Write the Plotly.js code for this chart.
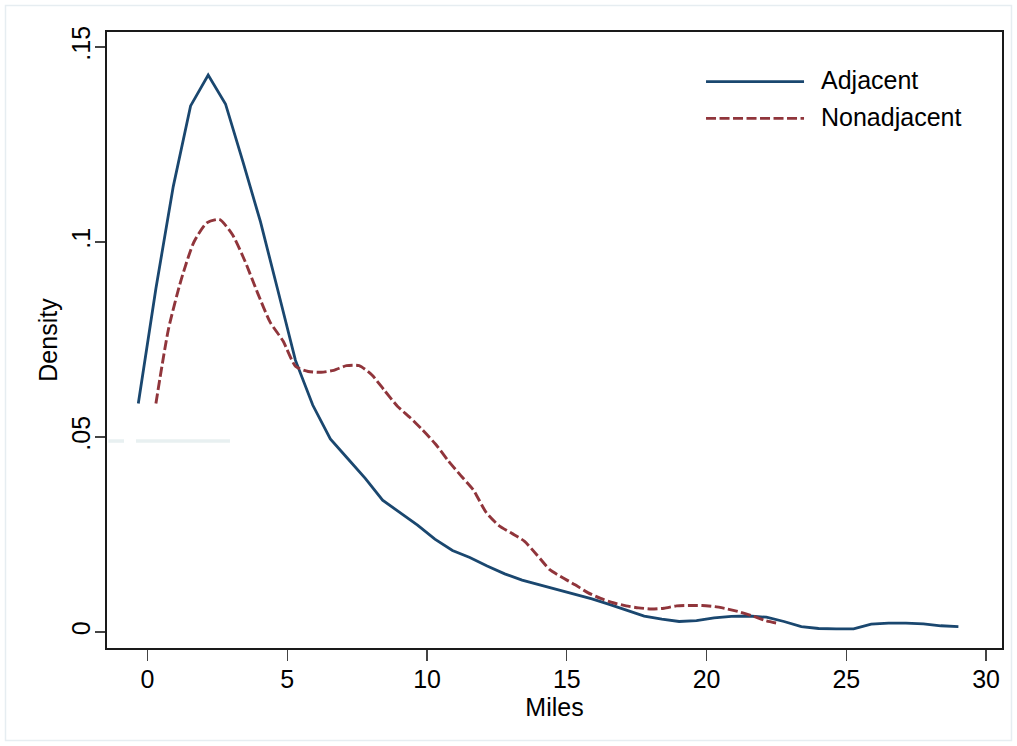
<!DOCTYPE html>
<html>
<head>
<meta charset="utf-8">
<script src="https://cdn.plot.ly/plotly-3.0.1.min.js"></script>
<style>
  html, body { margin: 0; padding: 0; background: #ffffff; }
  #chart { width: 1017px; height: 746px; }
</style>
</head>
<body>
<div id="chart"></div>
<script>
// Kernel density estimates
const adjacentMiles = [
  -0.33, 0.30, 0.92, 1.54, 2.17, 2.79, 3.42, 4.04, 4.66, 5.29,
  5.91, 6.54, 7.16, 7.79, 8.41, 9.03, 9.66, 10.28, 10.91, 11.53,
  12.15, 12.78, 13.40, 14.03, 14.65, 15.28, 15.90, 16.52, 17.15, 17.77,
  18.40, 19.02, 19.64, 20.27, 20.89, 21.52, 22.14, 22.77, 23.39, 24.01,
  24.64, 25.26, 25.89, 26.51, 27.13, 27.76, 28.38, 29.01
];
const adjacentDensity = [
  0.0586, 0.0881, 0.1142, 0.1349, 0.1428, 0.1354, 0.1204, 0.1052, 0.0877, 0.0697,
  0.0582, 0.0495, 0.0445, 0.0394, 0.0338, 0.0306, 0.0274, 0.0238, 0.0209, 0.0191,
  0.0169, 0.0149, 0.0133, 0.0121, 0.0109, 0.0098, 0.0085, 0.0071, 0.0056, 0.0041,
  0.0033, 0.0027, 0.0029, 0.0036, 0.0040, 0.0041, 0.0038, 0.0027, 0.0014, 0.0009,
  0.0008, 0.0008, 0.0020, 0.0023, 0.0023, 0.0021, 0.0016, 0.0014
];

const nonadjacentMiles = [
  0.30, 0.75, 1.21, 1.66, 2.12, 2.57, 3.03, 3.48, 3.94, 4.39,
  4.85, 5.30, 5.75, 6.21, 6.66, 7.12, 7.57, 8.03, 8.48, 8.94,
  9.39, 9.84, 10.30, 10.75, 11.21, 11.66, 12.12, 12.57, 13.03, 13.48,
  13.94, 14.39, 14.84, 15.30, 15.75, 16.21, 16.66, 17.12, 17.57, 18.03,
  18.48, 18.93, 19.39, 19.84, 20.30, 20.75, 21.21, 21.66, 22.12, 22.57
];
const nonadjacentDensity = [
  0.0586, 0.0777, 0.0905, 0.1000, 0.1049, 0.1058, 0.1020, 0.0952, 0.0869, 0.0794,
  0.0746, 0.0681, 0.0668, 0.0666, 0.0671, 0.0683, 0.0683, 0.0659, 0.0619, 0.0579,
  0.0550, 0.0518, 0.0482, 0.0440, 0.0401, 0.0364, 0.0306, 0.0273, 0.0253, 0.0233,
  0.0197, 0.0160, 0.0140, 0.0121, 0.0101, 0.0086, 0.0075, 0.0067, 0.0062, 0.0059,
  0.0061, 0.0067, 0.0068, 0.0068, 0.0065, 0.0059, 0.0051, 0.0041, 0.0029, 0.0022
];

const seriesNames = ["Adjacent", "Nonadjacent"];
const seriesColors = ["#1a476f", "#90353b"];
const seriesDash = ["solid", "10px,3.5px"];
const xTickVals = [0, 5, 10, 15, 20, 25, 30];
const xTickText = ["0", "5", "10", "15", "20", "25", "30"];
const yTickVals = [0, 0.05, 0.1, 0.15];
const yTickText = ["0", ".05", ".1", ".15"];

const FONT = "Liberation Sans, Arial, Helvetica, sans-serif";

const traces = [
  {
    x: adjacentMiles, y: adjacentDensity, name: seriesNames[0],
    type: "scatter", mode: "lines", showlegend: false,
    line: { color: seriesColors[0], width: 2.8, dash: seriesDash[0] }
  },
  {
    x: nonadjacentMiles, y: nonadjacentDensity, name: seriesNames[1],
    type: "scatter", mode: "lines", showlegend: false,
    line: { color: seriesColors[1], width: 2.9, dash: seriesDash[1], shape: "spline", smoothing: 0.6 }
  }
];

// Legend (Stata style: long key line, gap, label) drawn in paper coordinates
const legendRows = [0.9193, 0.8599];
const legendShapes = seriesNames.map((n, i) => ({
  type: "line", xref: "paper", yref: "paper",
  x0: 0.6693, x1: 0.7788, y0: legendRows[i], y1: legendRows[i],
  line: { color: seriesColors[i], width: 2.8, dash: seriesDash[i] }
}));
const legendLabels = seriesNames.map((n, i) => ({
  text: n, xref: "paper", yref: "paper",
  x: 0.7966, y: legendRows[i] + 0.002, xanchor: "left", yanchor: "middle",
  showarrow: false, borderpad: 0,
  font: { family: FONT, size: 25, color: "#000000" }
}));

const layout = {
  width: 1017, height: 746,
  paper_bgcolor: "#ffffff", plot_bgcolor: "#ffffff",
  margin: { l: 107, r: 15, t: 32, b: 98, pad: 0 },
  font: { family: FONT, size: 25, color: "#000000" },
  showlegend: false,
  xaxis: {
    range: [-1.45, 30.57],
    tickmode: "array", tickvals: xTickVals, ticktext: xTickText,
    ticks: "outside", ticklen: 11, tickwidth: 1.2, tickcolor: "#444444",
    ticklabelstandoff: -3,
    showline: true, linecolor: "#1a1a1a", linewidth: 2, mirror: true,
    showgrid: false, zeroline: false,
    tickfont: { family: FONT, size: 25, color: "#000000" },
    title: { text: "Miles", font: { family: FONT, size: 25, color: "#000000" }, standoff: 0 }
  },
  yaxis: {
    range: [-0.0041, 0.15385],
    tickmode: "array", tickvals: yTickVals, ticktext: yTickText,
    tickangle: -90,
    ticks: "outside", ticklen: 10, tickwidth: 1.2, tickcolor: "#444444",
    ticklabelstandoff: -5,
    showline: true, linecolor: "#1a1a1a", linewidth: 2, mirror: true,
    showgrid: false, zeroline: false,
    tickfont: { family: FONT, size: 25, color: "#000000" },
    title: { text: "Density", font: { family: FONT, size: 25, color: "#000000" }, standoff: 2 }
  },
  annotations: legendLabels,
  shapes: [
    { type: "rect", xref: "paper", yref: "paper",
      x0: -0.1134, x1: 1.0106, y0: -0.150, y1: 1.043,
      line: { color: "#e6edf1", width: 1.5 }, fillcolor: "rgba(0,0,0,0)", layer: "below" },
    { type: "line", xref: "paper", yref: "paper",
      x0: 0.0015, x1: 0.019, y0: 0.336, y1: 0.336,
      line: { color: "#e8f0f1", width: 3.5 } },
    { type: "line", xref: "paper", yref: "paper",
      x0: 0.0324, x1: 0.1374, y0: 0.336, y1: 0.336,
      line: { color: "#e8f0f1", width: 3.5 } }
  ].concat(legendShapes)
};

Plotly.newPlot("chart", traces, layout, { staticPlot: true, displayModeBar: false });
</script>
</body>
</html>
